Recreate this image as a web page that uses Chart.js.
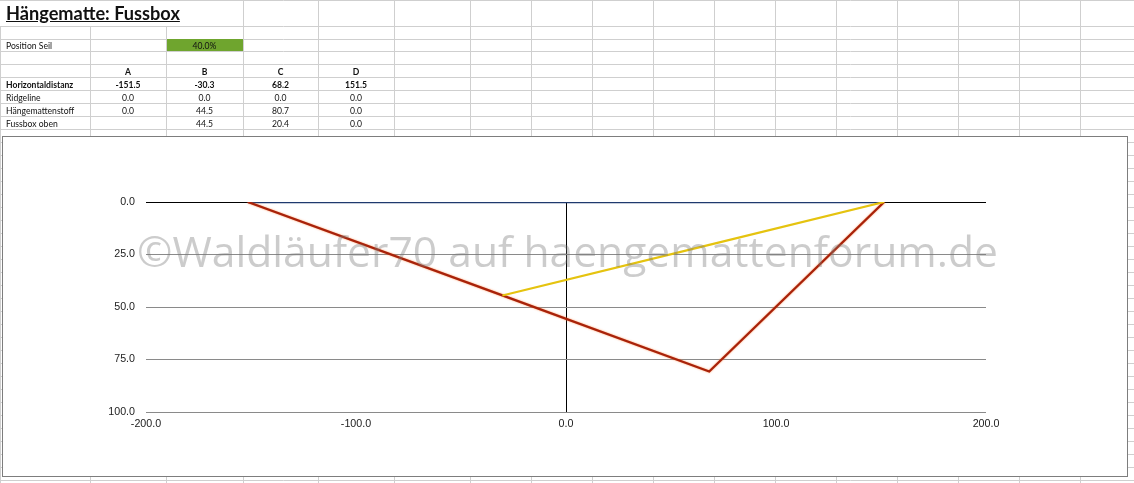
<!DOCTYPE html>
<html>
<head>
<meta charset="utf-8">
<script src="https://cdn.jsdelivr.net/npm/chart.js@4.4.1/dist/chart.umd.min.js"></script>
<style>
  html,body{margin:0;padding:0;background:#fff;}
  body{width:1134px;height:483px;overflow:hidden;position:relative;font-family:Lato,"Noto Sans",sans-serif;color:#111;}
  #grid{position:absolute;left:0;top:0;}
  .cell{position:absolute;height:13px;line-height:13px;font-size:8.6px;white-space:nowrap;}
  .c{text-align:center;}
  .b{font-weight:bold;}
  #title{position:absolute;left:6px;top:2px;font-weight:bold;text-decoration:underline;white-space:nowrap;line-height:22px;}
  #chartbox{position:absolute;left:2px;top:136px;width:1124px;height:339px;border:1.5px solid #7d7d7d;background:#fff;}
  #c{display:block;}
  #wm{position:absolute;left:137px;white-space:nowrap;font-family:"Open Sans",sans-serif;color:rgba(120,120,120,0.38);pointer-events:none;}
</style>
</head>
<body>
<canvas id="grid" width="1134" height="483"></canvas>
<div id="sheet"></div>
<div id="chartbox"><canvas id="c" width="1124" height="339"></canvas></div>
<div id="wm">©Waldläufer70 auf haengemattenforum.de</div>
<script>
// ---- data ----
const sheetTitle = "Hängematte: Fussbox";
const positionLabel = "Position Seil";
const positionSeil = 0.40;
const categories = ["A", "B", "C", "D"];
const rowLabels = ["Horizontaldistanz", "Ridgeline", "Hängemattenstoff", "Fussbox oben"];
const horizontalDistance = [-151.5, -30.3, 68.2, 151.5];
const ridgeline = [0.0, 0.0, 0.0, 0.0];
const haengemattenstoff = [0.0, 44.5, 80.7, 0.0];
const fussboxOben = [null, 44.5, 20.4, 0.0];
const xTicks = [-200, -100, 0, 100, 200];
const yTicks = [0, 25, 50, 75, 100];
const watermark = "©Waldläufer70 auf haengemattenforum.de";

// ---- spreadsheet grid ----
const colX = [90,166,243,318,394,469.5,531,592,653,714,775,836,897,958,1019,1080];
const rowY = [26,38.5,51,64.3,77.3,90.3,103.3,116.3,129.3];
for (let y = 142.3; y < 483; y += 13) rowY.push(y);
(function drawGrid(){
  const g = document.getElementById('grid').getContext('2d');
  g.strokeStyle = '#cfcfcf'; g.lineWidth = 1;
  g.beginPath(); g.moveTo(0,0.5); g.lineTo(1134,0.5); g.stroke();
  rowY.forEach(y => { const yy = Math.round(y)+0.5; g.beginPath(); g.moveTo(0,yy); g.lineTo(1134,yy); g.stroke(); });
  colX.forEach((x,i) => { const xx = Math.round(x)+0.5; const y0 = (i<2)?26:0; g.beginPath(); g.moveTo(xx,y0); g.lineTo(xx,483); g.stroke(); });
  g.beginPath(); g.moveTo(0.5,26); g.lineTo(0.5,483); g.stroke();
  g.fillStyle = '#6fa52e';
  g.fillRect(167, 39, 76, 12);
})();

const sheet = document.getElementById('sheet');
function cell(text, x0, x1, top, cls){
  const d = document.createElement('div');
  d.className = 'cell ' + (cls||'');
  d.style.left = x0 + 'px'; d.style.width = (x1-x0) + 'px'; d.style.top = top + 'px';
  d.textContent = text; sheet.appendChild(d); return d;
}
const title = document.createElement('div');
title.id = 'title'; title.textContent = sheetTitle; sheet.appendChild(title);
(function fitTitle(){
  const m = document.createElement('canvas').getContext('2d');
  m.font = 'bold 100px Lato';
  const w = m.measureText(sheetTitle).width;
  title.style.fontSize = (100*174/w).toFixed(2) + 'px';
})();
const dataCols = [[90,166],[166,243],[243,318],[318,394]];
cell(positionLabel, 6, 90, 39.5, '');
cell((positionSeil*100).toFixed(1) + '%', 166, 243, 39.5, 'c');
categories.forEach((c,i) => cell(c, dataCols[i][0], dataCols[i][1], 66.3, 'c b'));
const tableRows = [horizontalDistance, ridgeline, haengemattenstoff, fussboxOben];
const rowTops = [79.3, 92.3, 105.3, 118.3];
tableRows.forEach((arr, r) => {
  cell(rowLabels[r], 6, 90, rowTops[r], r===0 ? 'b' : '');
  arr.forEach((v,i) => { if (v !== null) cell(v.toFixed(1), dataCols[i][0], dataCols[i][1], rowTops[r], 'c' + (r===0?' b':'')); });
});

// ---- watermark ----
(function fitWm(){
  const wm = document.getElementById('wm');
  const m = document.createElement('canvas').getContext('2d');
  m.font = '100px "Open Sans"';
  const w = m.measureText(watermark).width;
  const fs = 100*861/w;
  wm.style.fontSize = fs.toFixed(2) + 'px';
  wm.style.lineHeight = fs.toFixed(2) + 'px';
  wm.style.top = (267 - 0.888*fs).toFixed(1) + 'px';
})();

// ---- chart ----
const pts = (ys) => horizontalDistance.map((x,i) => ({x, y: ys[i]})).filter(p => p.y !== null);
const glow = {
  id: 'glow',
  beforeDatasetDraw(chart, args){
    if (chart.data.datasets[args.index].glow){
      const ctx = chart.ctx; ctx.save();
      ctx.shadowColor = 'rgba(255,110,30,0.7)'; ctx.shadowBlur = 2;
    }
  },
  afterDatasetDraw(chart, args){
    if (chart.data.datasets[args.index].glow) chart.ctx.restore();
  }
};
const tickFont = {family: '"Liberation Sans", Arial, sans-serif', size: 10.7};
new Chart(document.getElementById('c'), {
  type: 'scatter',
  data: {
    datasets: [
      {label: rowLabels[3], data: pts(fussboxOben), showLine: true, borderColor: '#e5c30f', borderWidth: 2.2, pointRadius: 0},
      {label: rowLabels[2], data: pts(haengemattenstoff), showLine: true, borderColor: '#a8220a', borderWidth: 2.3, pointRadius: 0, glow: true},
      {label: rowLabels[1], data: pts(ridgeline), showLine: true, borderColor: '#1f3a6e', borderWidth: 2.5, pointRadius: 0}
    ]
  },
  options: {
    responsive: false, animation: false,
    layout: {padding: {left: 0, top: 65, right: 141, bottom: 0}},
    plugins: {legend: {display: false}, tooltip: {enabled: false}},
    scales: {
      x: {
        type: 'linear', min: xTicks[0], max: xTicks[xTicks.length-1],
        afterBuildTicks: s => { s.ticks = xTicks.map(v => ({value: v})); },
        afterFit: s => { s.height = 64; },
        border: {display: false},
        grid: {drawTicks: false, lineWidth: 1, color: ctx => (ctx.tick && ctx.tick.value === 0) ? '#000' : 'rgba(0,0,0,0)'},
        ticks: {padding: 6, color: '#222', font: tickFont, maxRotation: 0, callback: v => Number(v).toFixed(1)}
      },
      y: {
        type: 'linear', reverse: true, min: yTicks[0], max: yTicks[yTicks.length-1],
        afterBuildTicks: s => { s.ticks = yTicks.map(v => ({value: v})); },
        afterFit: s => { s.width = 143; },
        border: {display: false},
        grid: {drawTicks: false, lineWidth: 1, color: ctx => (ctx.tick && ctx.tick.value === 0) ? '#000' : '#8a8a8a'},
        ticks: {padding: 11, color: '#222', font: tickFont, callback: v => Number(v).toFixed(1)}
      }
    }
  },
  plugins: [glow]
});
</script>
</body>
</html>
